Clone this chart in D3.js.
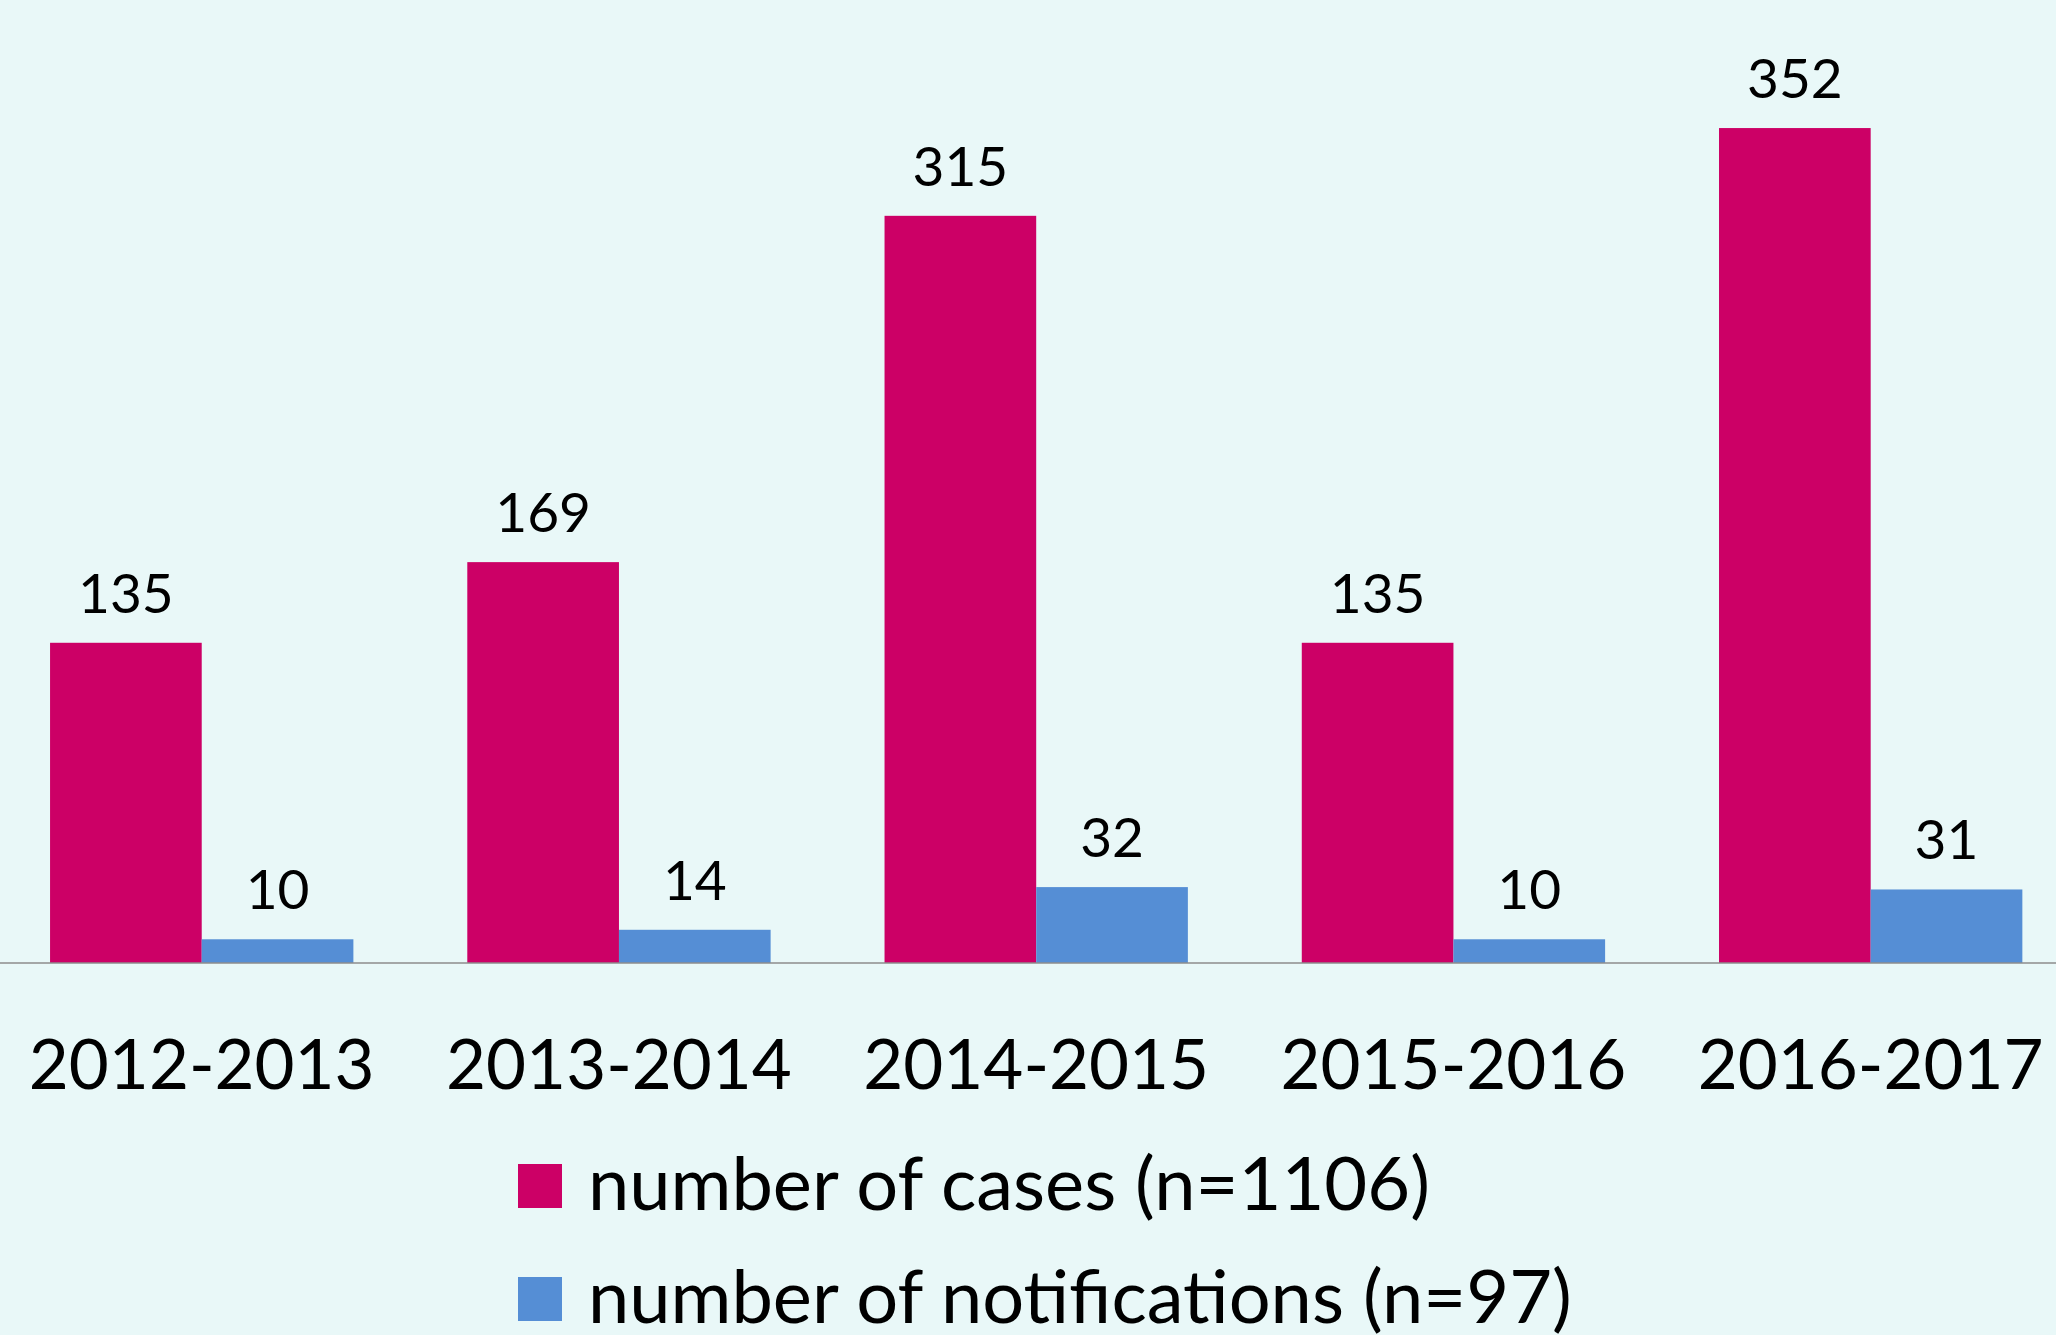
<!DOCTYPE html>
<html>
<head>
<meta charset="utf-8">
<script src="https://cdn.jsdelivr.net/npm/d3@7"></script>
<style>
  html, body { margin: 0; padding: 0; background: #e9f8f8; }
  svg { display: block; font-family: Lato, "Open Sans", sans-serif; }
</style>
</head>
<body>
<div id="chart"></div>
<script>
// chart data
var years = ["2012-2013", "2013-2014", "2014-2015", "2015-2016", "2016-2017"];
var cases = [135, 169, 315, 135, 352];
var notifications = [10, 14, 32, 10, 31];
var seriesNames = ["number of cases (n=1106)", "number of notifications (n=97)"];
var seriesColors = ["#cc0066", "#558ed5"];

var width = 2056, height = 1335;
var baseY = 963;

var svg = d3.select("#chart")
    .append("svg")
    .attr("width", width)
    .attr("height", height);

svg.append("rect")
    .attr("width", width)
    .attr("height", height)
    .attr("fill", "#e9f8f8");

// one band per year, split in two for the series
var x = d3.scaleBand()
    .domain(years)
    .range([-6.9, 2079.3])
    .paddingInner(0.273)
    .paddingOuter(0.1365);

var xs = d3.scaleBand()
    .domain([0, 1])
    .range([0, x.bandwidth()]);

var y = d3.scaleLinear()
    .domain([0, 400])
    .range([baseY, baseY - 400 * 2.372]);

var rows = years.map(function(yr, i) {
    return { year: yr, values: [cases[i], notifications[i]] };
});

var groups = svg.selectAll(".grp")
    .data(rows)
    .enter().append("g")
    .attr("class", "grp")
    .attr("transform", function(d) { return "translate(" + x(d.year) + ",0)"; });

groups.selectAll("rect")
    .data(function(d) { return d.values.map(function(v, k) { return {k: k, v: v}; }); })
    .enter().append("rect")
    .attr("x", function(d) { return xs(d.k); })
    .attr("y", function(d) { return y(d.v); })
    .attr("width", xs.bandwidth())
    .attr("height", function(d) { return baseY - y(d.v); })
    .attr("fill", function(d) { return seriesColors[d.k]; });

groups.selectAll("text.val")
    .data(function(d) { return d.values.map(function(v, k) { return {k: k, v: v}; }); })
    .enter().append("text")
    .attr("class", "val")
    .attr("x", function(d) { return xs(d.k) + xs.bandwidth() / 2; })
    .attr("y", function(d) { return y(d.v) - 30; })
    .attr("text-anchor", "middle")
    .style("font-size", "55px")
    .style("fill", "#000")
    .text(function(d) { return d.v; });

// baseline
svg.append("line")
    .attr("x1", 0)
    .attr("x2", width)
    .attr("y1", baseY)
    .attr("y2", baseY)
    .attr("stroke", "#8c8c8c")
    .attr("stroke-width", 1.5);

// category labels
var xAxis = svg.append("g")
    .attr("transform", "translate(0," + baseY + ")")
    .call(d3.axisBottom(x).tickSize(0).tickPadding(77));
xAxis.select(".domain").remove();
xAxis.selectAll("text")
    .style("font-family", "Lato, sans-serif")
    .style("font-size", "69px")
    .style("fill", "#000");

// legend
var legend = svg.selectAll(".leg")
    .data(seriesNames)
    .enter().append("g")
    .attr("class", "leg")
    .attr("transform", function(d, i) { return "translate(518," + (1164 + i * 113) + ")"; });

legend.append("rect")
    .attr("width", 44)
    .attr("height", 44)
    .attr("fill", function(d, i) { return seriesColors[i]; });

legend.append("text")
    .attr("x", 70)
    .attr("y", 46)
    .style("font-size", "74px")
    .style("fill", "#000")
    .text(function(d) { return d; });
</script>
</body>
</html>
